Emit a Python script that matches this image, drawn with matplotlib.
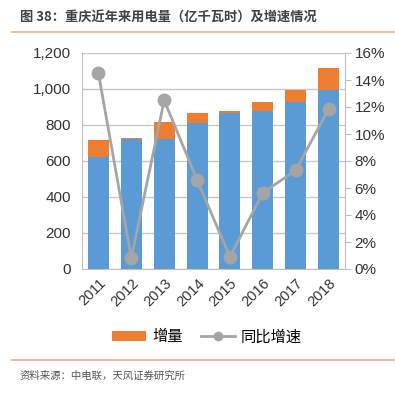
import matplotlib
matplotlib.use("Agg")
import matplotlib.pyplot as plt
from matplotlib.lines import Line2D
from matplotlib.patches import Patch
import numpy as np

plt.rcParams['font.family'] = ['Liberation Sans', 'Noto Sans CJK SC', 'DejaVu Sans']

years = ['2011', '2012', '2013', '2014', '2015', '2016', '2017', '2018']
base = [624, 720, 724, 813, 868, 876, 926, 994]
increment = [93, 5, 91, 55, 8, 50, 68, 121]
growth = [14.5, 0.8, 12.5, 6.6, 0.9, 5.65, 7.3, 11.85]

blue = '#5B9BD5'
orange = '#ED7D31'
gray = '#A5A5A5'

fig = plt.figure(figsize=(3.95, 3.98), dpi=100)
ax = fig.add_axes([82/395, 1-269/398, (345-82)/395, (269-53)/398])
x = np.arange(len(years))
ax.bar(x, base, width=0.64, color=blue, zorder=2)
ax.bar(x, increment, bottom=base, width=0.64, color=orange, zorder=2)
ax.set_ylim(0, 1200)
ax.set_yticks(range(0, 1201, 200))
ax.set_yticklabels([f'{v:,}' for v in range(0, 1201, 200)])
ax.set_xlim(-0.5, len(years)-0.5)
ax.set_xticks(x)
ax.set_xticklabels(years, rotation=45, ha='right', rotation_mode='anchor')
ax.grid(axis='y', color='#C8C8C8', linewidth=1, zorder=0)
for s in ['top', 'right']:
    ax.spines[s].set_visible(False)
ax.spines['left'].set_color('#BFBFBF')
ax.spines['bottom'].set_color('#BFBFBF')
ax.tick_params(axis='y', length=0, labelsize=11, colors='#333333', pad=8)
ax.tick_params(axis='x', length=0, labelsize=10.5, colors='#333333', pad=5)

ax2 = ax.twinx()
ax2.plot(x, growth, color=gray, linewidth=2, marker='o', markersize=9, zorder=3)
ax2.set_ylim(0, 16)
ax2.set_yticks(range(0, 17, 2))
ax2.set_yticklabels([f'{v}%' for v in range(0, 17, 2)])
for s in ['top', 'left', 'bottom']:
    ax2.spines[s].set_visible(False)
ax2.spines['right'].set_color('#BFBFBF')
ax2.tick_params(axis='y', length=4, color='#BFBFBF', labelsize=11, colors='#333333', pad=3)

handles = [Patch(facecolor=orange, edgecolor='none'),
           Line2D([0], [0], color=gray, linewidth=2, marker='o', markersize=6)]
fig.legend(handles, ['增量', '同比增速'], loc='center', bbox_to_anchor=(207/395, 1-337/398),
           ncol=2, frameon=False, handlelength=2.2, handleheight=0.6, columnspacing=1.2,
           handletextpad=0.4, prop={'family': ['Noto Sans CJK SC'], 'size': 11})

fig.text(20/395, 1-18/398, '图 38：重庆近年来用电量（亿千瓦时）及增速情况', fontsize=9.5,
         fontweight='bold', color='#404040', va='center', ha='left',
         family=['Noto Sans CJK SC', 'DejaVu Sans'])
fig.add_artist(Line2D([12/395, 1], [1-32/398, 1-32/398], color='#F4B183', linewidth=1.2))
fig.add_artist(Line2D([12/395, 1], [1-360/398, 1-360/398], color='#F4B183', linewidth=1.2))
fig.text(20/395, 1-376/398, '资料来源：中电联，天风证券研究所', fontsize=7.5, color='#555555',
         va='center', ha='left', family=['Noto Sans CJK SC', 'DejaVu Sans'])

fig.savefig('out.png', dpi=100)
